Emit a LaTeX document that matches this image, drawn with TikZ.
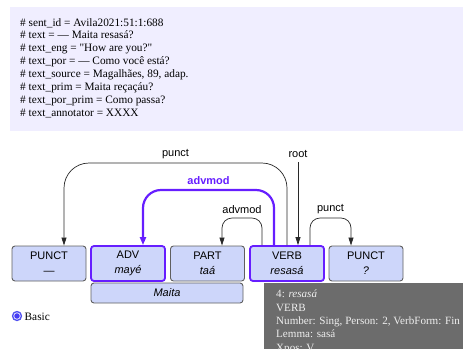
\documentclass[tikz,border=0pt]{standalone}
\usepackage{fontspec}
\setmainfont{Liberation Serif}
\newfontfamily\rawserif{Liberation Serif}[Ligatures=TeXOff]
\newfontfamily\lsans{Liberation Sans}
\usetikzlibrary{arrows.meta}
\definecolor{tokfill}{RGB}{205,214,250}
\definecolor{tokdraw}{RGB}{95,95,95}
\definecolor{hilite}{RGB}{102,30,255}
\definecolor{metafill}{RGB}{240,238,255}
\definecolor{tipfill}{RGB}{108,108,108}
\definecolor{tiptext}{RGB}{238,238,238}
\definecolor{arcline}{RGB}{40,40,40}
\definecolor{radioout}{RGB}{80,80,240}
\definecolor{radioin}{RGB}{70,60,245}
\tikzset{
  tok/.style={draw=tokdraw, fill=tokfill, rounded corners=3pt, line width=0.9pt,
    minimum width=74pt, minimum height=35pt, inner sep=0pt, align=center,
    font=\lsans\fontsize{11}{15}\selectfont},
  tokhl/.style={tok, draw=hilite, line width=1.8pt},
  arc/.style={draw=arcline, line width=0.7pt, -{Triangle[width=5pt,length=8pt]}},
  archl/.style={draw=hilite, line width=2.2pt, -{Triangle[width=6pt,length=8pt]}},
  arclab/.style={font=\lsans\fontsize{11}{13}\selectfont, text=black, inner sep=1pt},
  arclabhl/.style={font=\lsans\bfseries\fontsize{11}{13}\selectfont, text=hilite, inner sep=1pt},
}
\begin{document}
\begin{tikzpicture}[x=1pt,y=-1pt]
\useasboundingbox (0,0) rectangle (463,349);
% metadata box
\fill[metafill] (10,7) rectangle (463,131);
\node[anchor=north west, align=left, inner sep=0pt,
  font=\fontsize{11.3}{12.9}\selectfont] (meta) at (20,18) {%
\# sent\_id = Avila2021:51:1:688\\
\# text = — Maita resasá?\\
\# text\_eng = {\rawserif "How are you?"}\\
\# text\_por = — Como você está?\\
\# text\_source = Magalhães, 89, adap.\\
\# text\_prim = Maita reçaçáu?\\
\# text\_por\_prim = Como passa?\\
\# text\_annotator = XXXX};
% tokens
\node[tok] (t1) at (49,263.5) {PUNCT\\—};
\node[tokhl] (t2) at (128,263.5) {ADV\\\itshape mayé};
\node[tok] (t3) at (207.5,263.5) {PART\\\itshape taá};
\node[tokhl] (t4) at (287,263.5) {VERB\\\itshape resasá};
\node[tok] (t5) at (366,263.5) {PUNCT\\\itshape ?};
\node[tok, minimum width=152pt, minimum height=20pt] (mw) at (167,293) {\itshape Maita};
% arcs
\draw[arc, rounded corners=25pt] (t4.north) -- (t4.north |- 0,163)
  -- node[arclab, midway, above=3pt] {punct} ([xshift=15pt]t1.north |- 0,163) -- ([xshift=15pt]t1.north);
\coordinate (rt) at (298,162);
\node[arclab, above=3pt] (rootlab) at (rt) {root};
\draw[arc] (rt) -- ([xshift=11pt]t4.north);
\draw[archl, rounded corners=18pt] ([xshift=-13pt]t4.north) -- ([xshift=-13pt]t4.north |- 0,190)
  -- node[arclabhl, midway, above=3pt] {advmod} ([xshift=15pt]t2.north |- 0,190) -- ([xshift=15pt]t2.north);
\draw[arc, rounded corners=10pt] ([xshift=-25pt]t4.north) -- ([xshift=-25pt]t4.north |- 0,218)
  -- node[arclab, midway, above=3pt] {advmod} ([xshift=14.5pt]t3.north |- 0,218) -- ([xshift=14.5pt]t3.north);
\draw[arc, rounded corners=10pt] ([xshift=23pt]t4.north) -- ([xshift=23pt]t4.north |- 0,218)
  -- node[arclab, midway, above=3pt] {punct} ([xshift=-15pt]t5.north |- 0,218) -- ([xshift=-15pt]t5.north);
% radio
\fill[radioout] (17,316) circle (5.2);
\fill[white] (17,316) circle (3.6);
\fill[radioin] (17,316) circle (2.8);
\node[anchor=west, inner sep=0pt, font=\fontsize{11.3}{13}\selectfont] (basic) at (24.5,316.5) {Basic};
% tooltip
\fill[tipfill] (264,283) rectangle (463,349);
\begin{scope}
\clip (264,283) rectangle (463,349);
\node[anchor=north west, align=left, inner sep=0pt, text=tiptext,
  font=\fontsize{11.1}{13.3}\selectfont] (tip) at (276,290) {%
4: \textit{resasá}\\
VERB\\
Number: Sing, Person: 2, VerbForm: Fin\\
Lemma: sasá\\
Xpos: V};
\end{scope}
\end{tikzpicture}
\end{document}
